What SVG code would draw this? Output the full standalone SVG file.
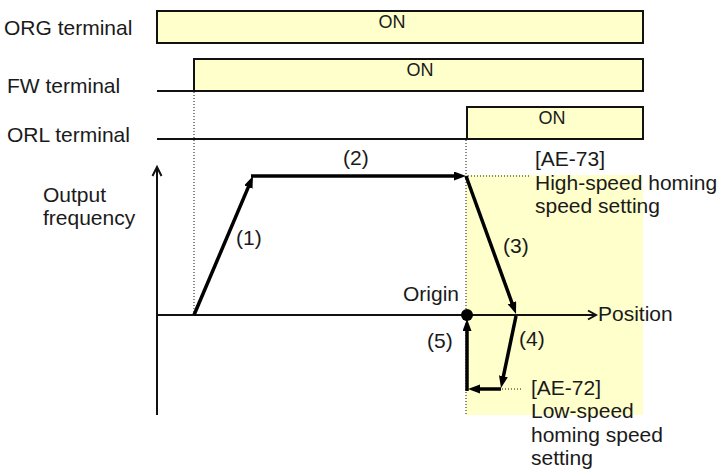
<svg xmlns="http://www.w3.org/2000/svg" width="718" height="471" viewBox="0 0 718 471">
<defs>
<style>
text{font-family:"Liberation Sans",Arial,sans-serif;font-size:21px;fill:#1a1a1a}
.on{font-size:18px;text-anchor:middle}
.box{fill:#FFFFCC;stroke:#111;stroke-width:2}
.lo{stroke:#111;stroke-width:2;fill:none}
.dot{stroke:#111;stroke-width:1;stroke-dasharray:1 2;fill:none}
.ax{stroke:#111;stroke-width:2;fill:none}
.thick{stroke:#000;stroke-width:3.5;fill:none}
</style>
<marker id="ah" markerUnits="userSpaceOnUse" markerWidth="13" markerHeight="10" refX="4" refY="4.5" orient="auto" viewBox="0 0 13 10">
<path d="M0,0 L12,4.5 L0,9 z" fill="#000"/>
</marker>
</defs>
<rect x="0" y="0" width="718" height="471" fill="#fff"/>
<rect id="zone" x="466" y="175" width="177" height="240" fill="#FFFFCC"/>

<g id="org">
<text x="4" y="35">ORG terminal</text>
<rect class="box" x="157" y="11" width="486" height="32"/>
<text class="on" x="392" y="28">ON</text>
</g>
<g id="fw">
<text x="7" y="93">FW terminal</text>
<line class="lo" x1="157" y1="91" x2="194" y2="91"/>
<rect class="box" x="194" y="59" width="449" height="32"/>
<text class="on" x="420" y="76">ON</text>
</g>
<g id="orl">
<text x="7" y="142">ORL terminal</text>
<line class="lo" x1="157" y1="139" x2="467" y2="139"/>
<rect class="box" x="467" y="107" width="176" height="32"/>
<text class="on" x="552" y="124">ON</text>
</g>

<g id="guides">
<line class="dot" x1="194" y1="92" x2="194" y2="315"/>
<line class="dot" x1="466" y1="140" x2="466" y2="415"/>
<line class="dot" x1="468" y1="176" x2="529" y2="176"/>
<line class="dot" x1="502" y1="389" x2="523" y2="389"/>
</g>

<g id="axes">
<line class="ax" x1="157" y1="415" x2="157" y2="168"/>
<polyline class="ax" points="152.5,176 157,167 161.5,176"/>
<line class="ax" x1="157" y1="315" x2="595" y2="315"/>
<polyline class="ax" points="588,310.5 596,315 588,319.5"/>
<text x="43" y="202">Output</text>
<text x="43" y="225">frequency</text>
<text x="598" y="321">Position</text>
</g>

<g id="connectors">
<line class="thick" x1="194" y1="315" x2="249.9" y2="183.4" marker-end="url(#ah)"/>
<line class="thick" x1="251" y1="176" x2="458" y2="176" marker-end="url(#ah)"/>
<line class="thick" x1="466" y1="176" x2="513.3" y2="306.5" marker-end="url(#ah)"/>
<line class="thick" x1="516" y1="316" x2="502.6" y2="380.2" marker-end="url(#ah)"/>
<line class="thick" x1="501" y1="389" x2="476" y2="389" marker-end="url(#ah)"/>
<line class="thick" x1="467" y1="391" x2="467" y2="327" marker-end="url(#ah)"/>
</g>

<g id="origin">
<circle cx="467" cy="315" r="6" fill="#000"/>
<text x="403" y="301">Origin</text>
</g>

<g id="labels">
<text x="236" y="245">(1)</text>
<text x="343" y="165">(2)</text>
<text x="503" y="253">(3)</text>
<text x="519" y="346">(4)</text>
<text x="427" y="348">(5)</text>
</g>

<g id="ae73">
<text x="535" y="166">[AE-73]</text>
<text x="535" y="190">High-speed homing</text>
<text x="535" y="213">speed setting</text>
</g>
<g id="ae72">
<text x="531" y="395">[AE-72]</text>
<text x="531" y="418">Low-speed</text>
<text x="531" y="442">homing speed</text>
<text x="531" y="465">setting</text>
</g>
</svg>
